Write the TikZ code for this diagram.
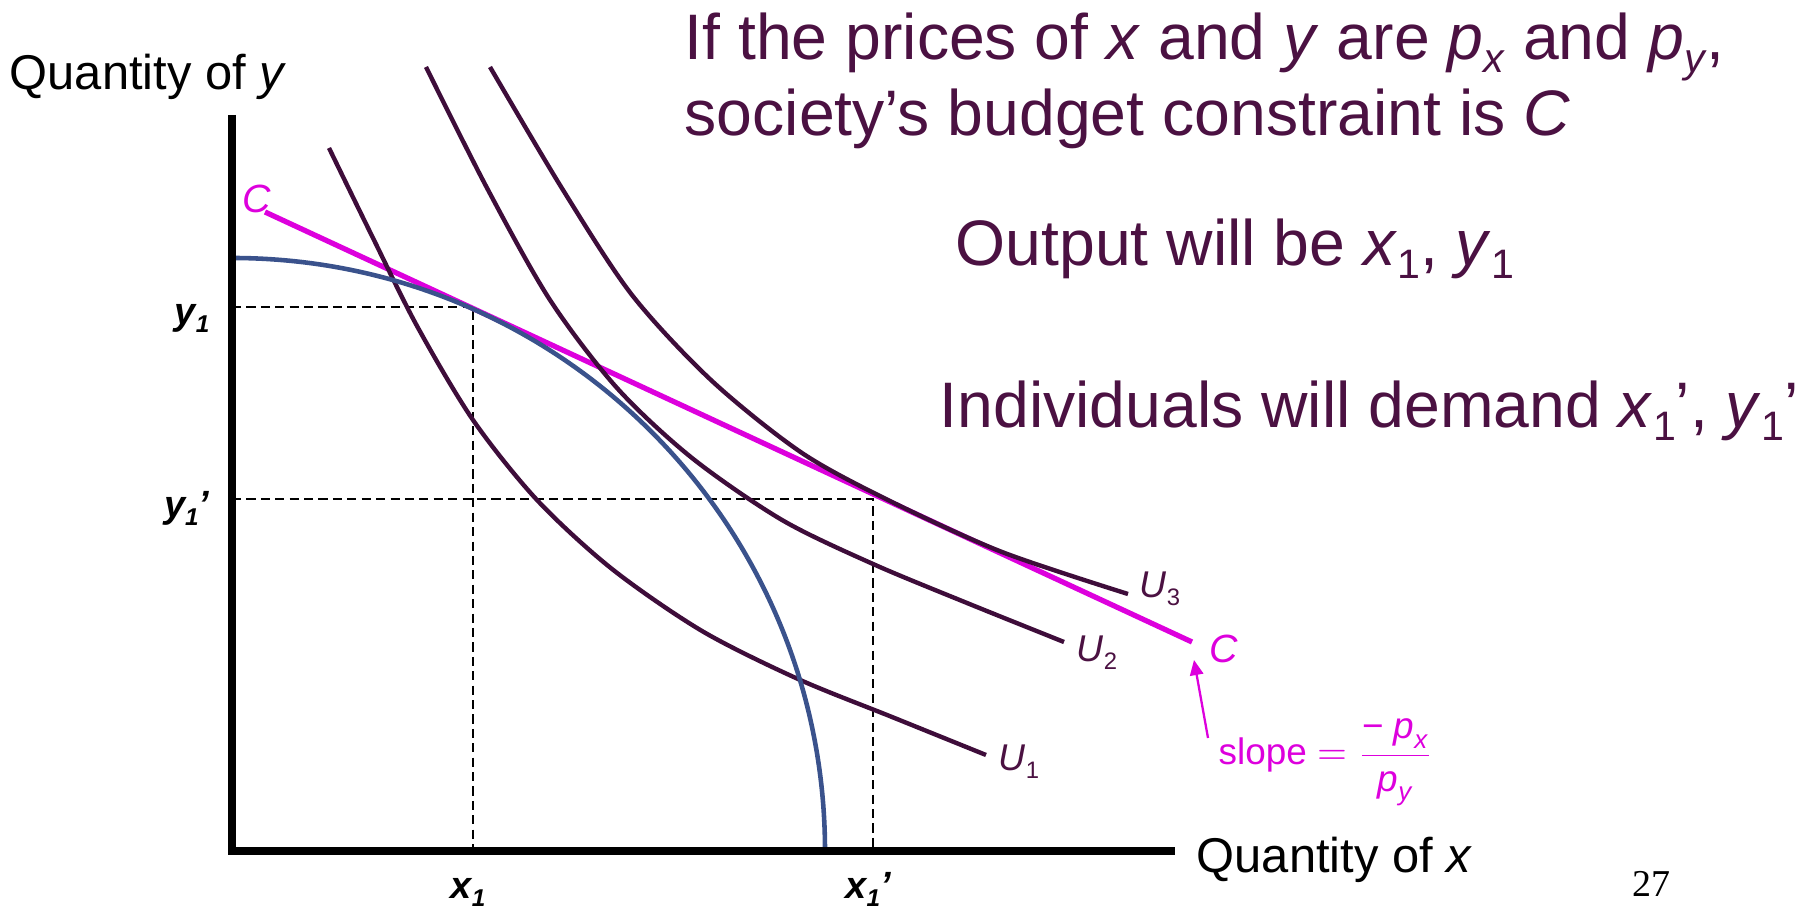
\documentclass[tikz,border=0pt]{standalone}
\usepackage{amsmath}
\usepackage{fontspec}
\setmainfont{Liberation Sans}
\newfontfamily\pagenumfont{Liberation Serif}
\usepackage{tikz}
\usetikzlibrary{arrows.meta,positioning,calc}
\definecolor{plum}{RGB}{75,17,66}
\definecolor{icurve}{RGB}{62,13,58}
\definecolor{ppfblue}{RGB}{58,82,140}
\definecolor{budget}{RGB}{221,0,221}
\newcommand{\lo}[1]{\raisebox{-0.2em}{\scalebox{0.64}{#1}}}
\tikzset{
  axis/.style={line width=2.1pt, line join=miter},
  guide/.style={line width=0.45pt, dash pattern=on 2.6pt off 1.5pt},
  indiff/.style={icurve, line width=1.25pt},
  ppf/.style={ppfblue, line width=1.3pt},
  budgetline/.style={budget, line width=1.5pt},
  bigtext/.style={plum, inner sep=0pt, font=\fontsize{18.3}{21.6}\selectfont},
  axislabel/.style={inner sep=0pt, font=\fontsize{13.9}{16}\selectfont},
  ticklabel/.style={inner sep=0pt, font=\fontsize{10.8}{13}\selectfont\bfseries\itshape},
  ulabel/.style={plum, inner sep=0pt, font=\fontsize{10.6}{13}\selectfont},
  clabel/.style={budget, inner sep=0pt, font=\fontsize{11.2}{13}\selectfont\itshape},
  slopearrow/.style={budget, line width=0.65pt, -{Triangle[length=4.3pt,width=3.8pt]}}
}

\begin{document}
\begin{tikzpicture}[>=Latex]
  \useasboundingbox (-2.32,-0.59) rectangle (15.69,8.51);
  % explanation
  \node[bigtext, anchor=base west] (line1) at (4.52,7.91)
    {If the prices of \textit{x} and \textit{y} are \textit{p}\lo{\textit{x}} and \textit{p}\lo{\textit{y}},};
  \node[bigtext, anchor=base west] (line2) at ([yshift=-0.76cm]line1.base west)
    {society’s budget constraint is \textit{C}};
  \node[bigtext, anchor=base west] (output) at (7.23,5.85)
    {Output will be \textit{x}\lo{1}, \textit{y}\lo{1}};
  \node[bigtext, anchor=base west] (demand) at (7.07,4.23)
    {Individuals will demand \textit{x}\lo{1}’, \textit{y}\lo{1}’};
  % axes
  \node[axislabel, anchor=base west] (qy) at (-2.23,7.61) {Quantity of \textit{y}};
  \node[axislabel, anchor=base west] (qx) at (9.64,-0.22) {Quantity of \textit{x}};
  % guides to the two bundles
  \draw[guide] (0,5.44) -| (2.41,0);
  \draw[guide] (0,3.52) -| (6.41,0);
  \node[ticklabel, anchor=base east] (y1) at (-0.22,5.26) {y\lo{1}};
  \node[ticklabel, anchor=base east] (y1p) at (-0.22,3.33) {y\lo{1}’};
  \node[ticklabel, anchor=base] (x1) at (2.36,-0.48) {x\lo{1}};
  \node[ticklabel, anchor=base] (x1p) at (6.36,-0.48) {x\lo{1}’};
  % budget line C
  \draw[budgetline] (0.33,6.39) -- (9.60,2.09);
  \node[clabel, anchor=base west] (ctop) at (0.10,6.38) {C};
  \node[clabel, anchor=base west] (cbot) at (9.77,1.88) {C};
  % indifference curves
  \draw[indiff] plot[smooth] coordinates {(0.97,7.03) (1.4,6.15) (1.85,5.25) (2.41,4.31)
    (3.05,3.51) (3.8,2.82) (4.7,2.20) (5.66,1.72) (6.6,1.34) (7.54,0.96)};
  \draw[indiff] plot[smooth] coordinates {(1.94,7.84) (2.55,6.63) (3.18,5.51) (3.85,4.63)
    (4.6,3.93) (5.5,3.31) (6.41,2.87) (7.35,2.48) (8.32,2.09)};
  \draw[indiff] plot[smooth] coordinates {(2.58,7.84) (3.31,6.61) (4.0,5.56) (4.8,4.70)
    (5.7,3.98) (6.6,3.49) (7.7,2.99) (8.96,2.57)};
  \node[ulabel, anchor=base west] (u1) at (7.66,0.80) {\textit{U}\lo{1}};
  \node[ulabel, anchor=base west] (u2) at (8.44,1.89) {\textit{U}\lo{2}};
  \node[ulabel, anchor=base west] (u3) at (9.07,2.53) {\textit{U}\lo{3}};
  % production possibility frontier
  \draw[ppf] (0,5.93) arc[start angle=90, end angle=0, radius=5.93];
  \draw[axis] (0,7.36) -- (0,0) -- (9.43,0);
  % slope note
  \node[budget, inner sep=0pt, anchor=base west, font=\fontsize{10.5}{13}\selectfont] (slope) at (9.86,0.86)
    {slope $=\dfrac{\text{−\ }\textit{p}_{\textit{x}}}{\textit{p}_{\textit{y}}}$};
  \coordinate (ctip) at (9.62,1.91);
  \draw[slopearrow] ([shift={(-0.10,0.27)}]slope.base west) -- (ctip);
  \node[inner sep=0pt, anchor=base west, font=\pagenumfont\fontsize{10.8}{13}\selectfont] (pagenum) at (14.0,-0.46) {27};
\end{tikzpicture}
\end{document}
